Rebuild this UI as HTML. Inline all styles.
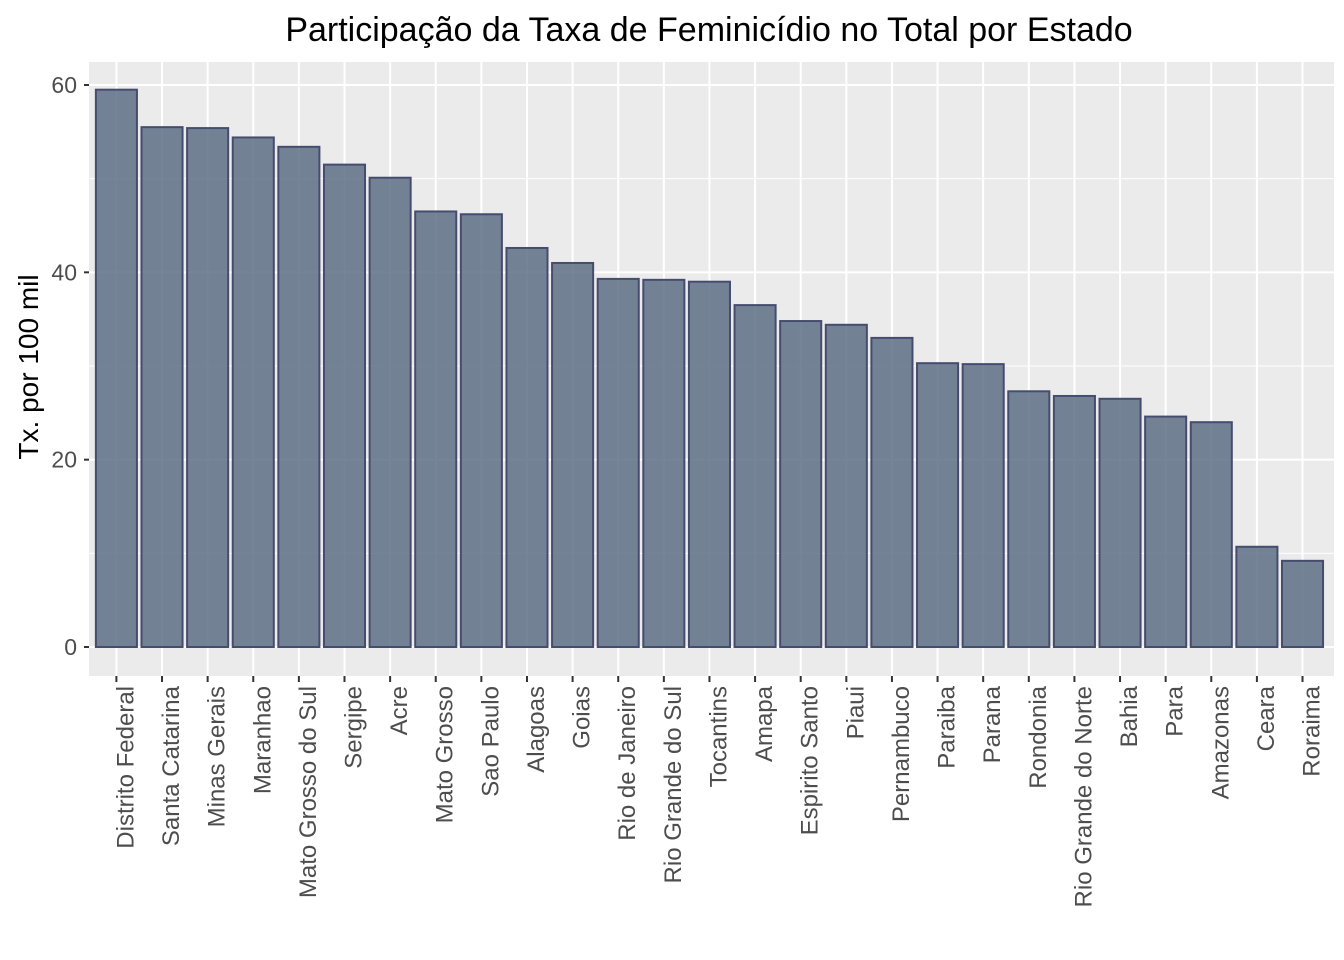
<!DOCTYPE html>
<html><head><meta charset="utf-8"><style>
html,body{margin:0;padding:0;background:#fff;}
svg{display:block;font-family:"Liberation Sans",Arial,sans-serif;}
</style></head><body>
<svg id="c" width="1344" height="960"></svg>
<script>
const categories=["Distrito Federal","Santa Catarina","Minas Gerais","Maranhao","Mato Grosso do Sul","Sergipe","Acre","Mato Grosso","Sao Paulo","Alagoas","Goias","Rio de Janeiro","Rio Grande do Sul","Tocantins","Amapa","Espirito Santo","Piaui","Pernambuco","Paraiba","Parana","Rondonia","Rio Grande do Norte","Bahia","Para","Amazonas","Ceara","Roraima"];
const values=[59.5,55.5,55.4,54.4,53.4,51.5,50.1,46.5,46.2,42.6,41.0,39.3,39.2,39.0,36.5,34.8,34.4,33.0,30.3,30.2,27.3,26.8,26.5,24.6,24.0,10.7,9.2];
const yTicks=[0,20,40,60];
const yMinor=[10,30,50];
const NS="http://www.w3.org/2000/svg";
const svg=document.getElementById('c');
const L=89,R=1334,T=62,B=676;
const n=categories.length;
const step=45.62;
const x=i=>116.4+step*i;
const y=v=>647-v*(562/60);
function mk(t,a,p){const e=document.createElementNS(NS,t);for(const k in a)e.setAttribute(k,a[k]);(p||svg).appendChild(e);return e;}
const panel=mk('rect',{x:L,y:T,width:R-L,height:B-T,fill:'#ebebeb'});


yMinor.forEach(v=>mk('line',{x1:L,x2:R,y1:y(v),y2:y(v),stroke:'#fff','stroke-width':1}));
yTicks.forEach(v=>{
 mk('line',{x1:L,x2:R,y1:y(v),y2:y(v),stroke:'#fff','stroke-width':2});
 mk('line',{x1:84,x2:89,y1:y(v),y2:y(v),stroke:'#333','stroke-width':2});
 const t=mk('text',{x:77,y:y(v)+8,'text-anchor':'end','font-size':23,fill:'#4d4d4d'});t.textContent=v;
 
 
});
categories.forEach((c,i)=>mk('line',{x1:x(i),x2:x(i),y1:T,y2:B,stroke:'#fff','stroke-width':2}));
const bw=step*0.9;
categories.forEach((c,i)=>{
 const r=mk('rect',{x:x(i)-bw/2,y:y(values[i]),width:bw,height:y(0)-y(values[i]),fill:'#5e6f86','fill-opacity':0.85,stroke:'#464c6e','stroke-width':2});
 
 
 mk('line',{x1:x(i),x2:x(i),y1:B,y2:B+6,stroke:'#333','stroke-width':2});
 const t=mk('text',{x:0,y:0,'text-anchor':'end','font-size':24,fill:'#4d4d4d',transform:`translate(${x(i)+17},686) rotate(-90)`});
 t.textContent=c;
 
 
});
const title=mk('text',{x:709,y:41,'text-anchor':'middle','font-size':34,fill:'#000'});
title.textContent="Participação da Taxa de Feminicídio no Total por Estado";


const yt=mk('text',{x:0,y:0,'text-anchor':'middle','font-size':28,fill:'#000',transform:'translate(38,367) rotate(-90)'});
yt.textContent="Tx. por 100 mil";


</script>
</body></html>
